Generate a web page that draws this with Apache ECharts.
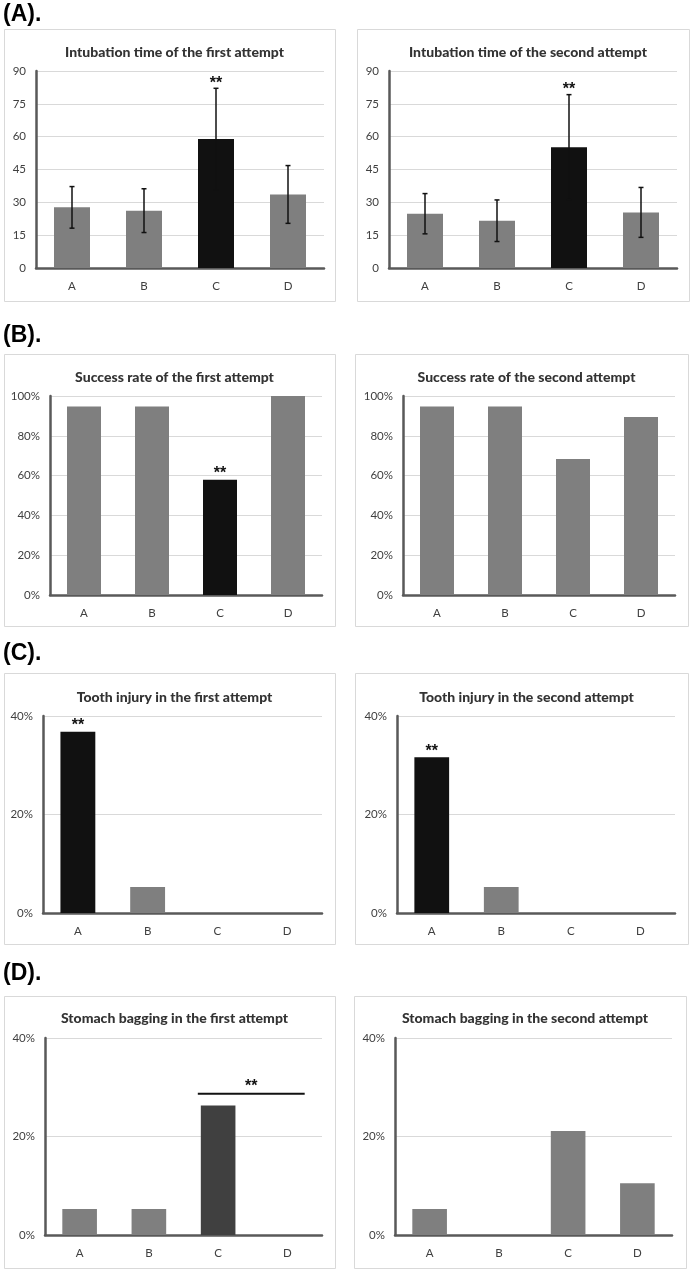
<!DOCTYPE html>
<html><head><meta charset="utf-8">
<script src="https://cdn.jsdelivr.net/npm/echarts@6/dist/echarts.min.js"></script>
<style>html,body{margin:0;padding:0;background:#fff}#c{width:692px;height:1270px}</style>
</head><body><div id="c"></div>
<script>
// ---- data ----
const categories = ['A', 'B', 'C', 'D'];
const panelLabels = ['(A).', '(B).', '(C).', '(D).'];
const titles = [
  'Intubation time of the first attempt', 'Intubation time of the second attempt',
  'Success rate of the first attempt', 'Success rate of the second attempt',
  'Tooth injury in the first attempt', 'Tooth injury in the second attempt',
  'Stomach bagging in the first attempt', 'Stomach bagging in the second attempt'
];
const timeFirstMean = [27.7, 26.2, 58.9, 33.6];
const timeFirstSD = [9.5, 10.0, 23.2, 13.2];
const timeSecondMean = [24.8, 21.6, 55.2, 25.4];
const timeSecondSD = [9.2, 9.5, 24.0, 11.4];
const successFirst = [94.7, 94.7, 57.9, 100];
const successSecond = [94.7, 94.7, 68.4, 89.5];
const toothFirst = [36.8, 5.3, 0, 0];
const toothSecond = [31.6, 5.3, 0, 0];
const stomachFirst = [5.3, 5.3, 26.3, 0];
const stomachSecond = [5.3, 0, 21.1, 10.5];
const sigTimeFirst = ['', '', '**', ''];
const sigTimeSecond = ['', '', '**', ''];
const sigSuccessFirst = ['', '', '**', ''];
const sigToothFirst = ['**', '', '', ''];
const sigToothSecond = ['**', '', '', ''];
const sigStomachFirst = [[2, 3, 28.7, '**']]; // bracket from C to D at 28.7%
const timeTicks = { min: 0, max: 90, interval: 15 };
const successTicks = { min: 0, max: 100, interval: 20 };
const injuryTicks = { min: 0, max: 40, interval: 20 };

// ---- layout / style ----
const GRAY = '#7f7f7f', BLACK = '#111111', DARK = '#404040';
const grids = [
  { left: 36, top: 71, width: 288, height: 197 },
  { left: 389, top: 71, width: 288, height: 197 },
  { left: 50, top: 396, width: 272, height: 199 },
  { left: 403, top: 396, width: 272, height: 199 },
  { left: 43, top: 716, width: 279, height: 197 },
  { left: 397, top: 716, width: 278, height: 197 },
  { left: 45, top: 1038, width: 277, height: 197 },
  { left: 395, top: 1038, width: 277, height: 197 }
];
const boxes = [
  [4, 29, 331, 272], [357, 29, 332, 272],
  [4, 354, 331, 272], [355, 354, 333, 272],
  [4, 673, 331, 271], [355, 673, 333, 271],
  [4, 996, 331, 272], [354, 996, 332, 272]
];
const titleY = [40, 40, 365, 365, 685, 685, 1006, 1006];
const labelY = [15, 336, 654, 974];

const chart = echarts.init(document.getElementById('c'), null, { renderer: 'canvas' });

const ticksFor = [timeTicks, timeTicks, successTicks, successTicks, injuryTicks, injuryTicks, injuryTicks, injuryTicks];
const pct = [false, false, true, true, true, true, true, true];

const xAxes = grids.map((g, i) => ({
  type: 'category', gridIndex: i, data: categories, boundaryGap: true,
  axisLine: { show: true, lineStyle: { color: '#595959', width: 2.5 } },
  axisTick: { show: false },
  axisLabel: { color: '#404040', fontSize: 11.5, fontFamily: 'Lato', margin: 12 }
}));
const yAxes = grids.map((g, i) => ({
  type: 'value', gridIndex: i, min: ticksFor[i].min, max: ticksFor[i].max, interval: ticksFor[i].interval,
  axisLine: { show: true, lineStyle: { color: '#595959', width: 2.5 } },
  axisTick: { show: false },
  splitLine: { show: true, lineStyle: { color: '#d9d9d9', width: 1 } },
  axisLabel: { color: '#404040', fontSize: 11.5, fontFamily: 'Lato', margin: 10,
    formatter: pct[i] ? '{value}%' : '{value}' }
}));

const starFont = 'bold 16px "Liberation Sans"';

function barSeries(idx, values, sig, hiColor) {
  return {
    type: 'bar', xAxisIndex: idx, yAxisIndex: idx, data: values, barWidth: '50%',
    itemStyle: { color: p => (sig && sig[p.dataIndex]) ? (hiColor || BLACK) : GRAY },
    label: {
      show: true, position: 'top', distance: -2,
      formatter: p => (sig && sig[p.dataIndex] && sig[p.dataIndex].trim()) ? sig[p.dataIndex] : '',
      fontSize: 16, fontWeight: 'bold', color: '#111', fontFamily: 'Liberation Sans'
    },
    silent: true
  };
}

function errorSeries(idx, means, sds, stars) {
  return {
    type: 'custom', xAxisIndex: idx, yAxisIndex: idx, z: 5,
    data: means.map((m, i) => [i, m - sds[i], m + sds[i]]),
    renderItem(params, api) {
      const x = api.coord([api.value(0), 0])[0];
      const lo = api.coord([api.value(0), api.value(1)])[1];
      const hi = api.coord([api.value(0), api.value(2)])[1];
      const cap = 2.5;
      const style = { stroke: '#111', lineWidth: 1.5 };
      const children = [
        { type: 'line', shape: { x1: x, y1: lo, x2: x, y2: hi }, style },
        { type: 'line', shape: { x1: x - cap, y1: hi, x2: x + cap, y2: hi }, style },
        { type: 'line', shape: { x1: x - cap, y1: lo, x2: x + cap, y2: lo }, style }
      ];
      const s = stars[params.dataIndex];
      if (s) children.push({ type: 'text', x: x, y: hi + 3, style: {
        text: s, textAlign: 'center', textVerticalAlign: 'bottom',
        font: starFont, fill: '#111' } });
      return { type: 'group', children };
    }
  };
}

function bracketSeries(idx, items) {
  return {
    type: 'custom', xAxisIndex: idx, yAxisIndex: idx, z: 5,
    data: items.map(d => [d[0], d[1], d[2]]),
    renderItem(params, api) {
      const half = api.size([1, 0])[0] * 0.25;
      const x1 = api.coord([api.value(0), 0])[0] - half - 3;
      const x2 = api.coord([api.value(1), 0])[0] + half;
      const y = api.coord([api.value(0), api.value(2)])[1];
      return { type: 'group', children: [
        { type: 'line', shape: { x1, y1: y, x2, y2: y }, style: { stroke: '#111', lineWidth: 2 } },
        { type: 'text', x: (x1 + x2) / 2, y: y + 1, style: {
          text: items[params.dataIndex][3], textAlign: 'center', textVerticalAlign: 'bottom',
          font: starFont, fill: '#111' } }
      ] };
    }
  };
}

const series = [
  barSeries(0, timeFirstMean, sigTimeFirst.map(s => s ? ' ' : ''), BLACK),
  errorSeries(0, timeFirstMean, timeFirstSD, sigTimeFirst),
  barSeries(1, timeSecondMean, sigTimeSecond.map(s => s ? ' ' : ''), BLACK),
  errorSeries(1, timeSecondMean, timeSecondSD, sigTimeSecond),
  barSeries(2, successFirst, sigSuccessFirst),
  barSeries(3, successSecond, null),
  barSeries(4, toothFirst, sigToothFirst),
  barSeries(5, toothSecond, sigToothSecond),
  barSeries(6, stomachFirst, stomachFirst.map((v, i) => i === sigStomachFirst[0][0] ? ' ' : ''), DARK),
  bracketSeries(6, sigStomachFirst),
  barSeries(7, stomachSecond, null)
];

const graphic = [];
boxes.forEach(b => graphic.push({ type: 'rect', silent: true, z: -10,
  shape: { x: b[0] + 0.5, y: b[1] + 0.5, width: b[2], height: b[3] },
  style: { fill: '#fff', stroke: '#d9d9d9', lineWidth: 1 } }));
panelLabels.forEach((t, i) => graphic.push({ type: 'text', silent: true, x: 3, y: labelY[i],
  style: { text: t, font: 'bold 23px "Liberation Sans"', fill: '#000', textVerticalAlign: 'middle' } }));

const title = titles.map((t, i) => ({
  text: t, left: boxes[i][0] + boxes[i][2] / 2, top: titleY[i], textAlign: 'center',
  textStyle: { fontFamily: 'Lato', fontWeight: 900, fontSize: 14, color: '#333' }
}));

chart.setOption({
  animation: false,
  backgroundColor: '#fff',
  title,
  grid: grids,
  xAxis: xAxes,
  yAxis: yAxes,
  series,
  graphic
});
</script></body></html>
